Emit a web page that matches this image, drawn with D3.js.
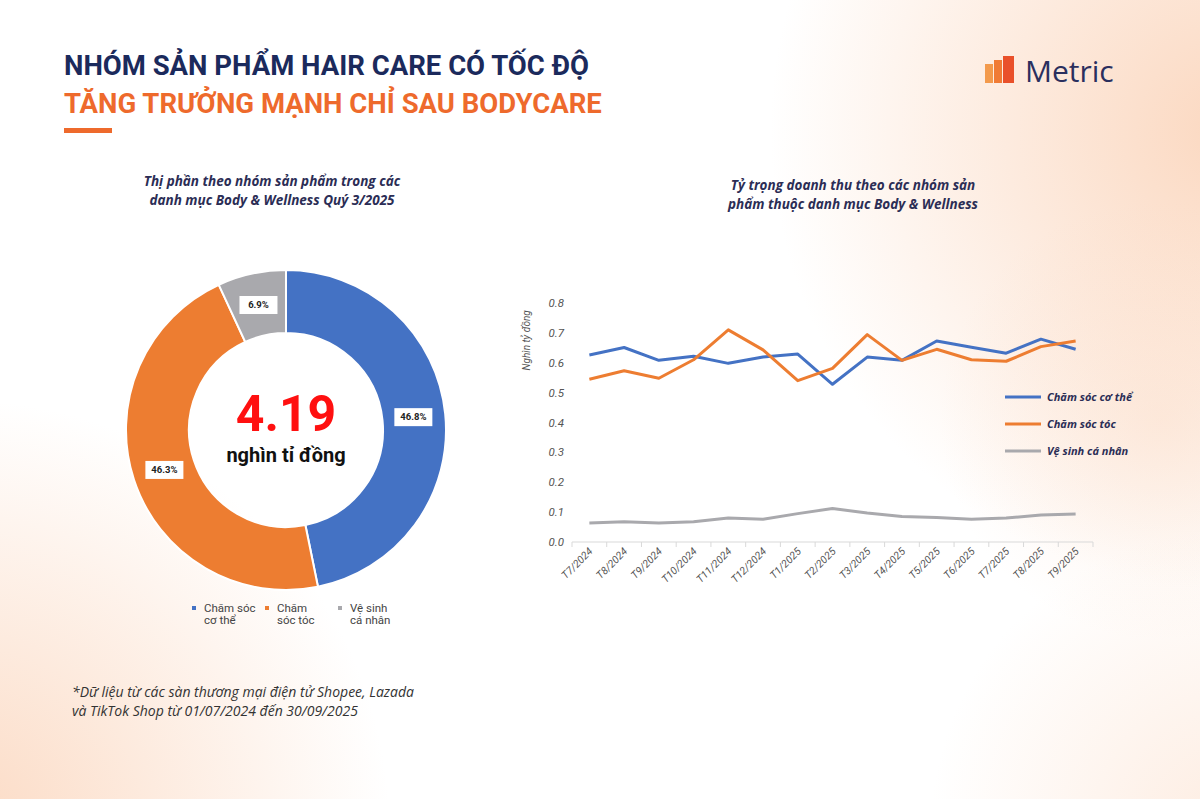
<!DOCTYPE html>
<html>
<head>
<meta charset="utf-8">
<script src="https://cdn.jsdelivr.net/npm/d3@7"></script>
<style>
  body { margin: 0; background: #fff; }
  svg { display: block; font-family: Roboto, "Noto Sans", sans-serif; }
</style>
</head>
<body>
<svg></svg>
<script>
const W = 1200, H = 799;

// donut data
const shareNames = ['Chăm sóc cơ thể', 'Chăm sóc tóc', 'Vệ sinh cá nhân'];
const shareValues = [46.8, 46.3, 6.9];
const legendLines = [['Chăm sóc', 'cơ thể'], ['Chăm', 'sóc tóc'], ['Vệ sinh', 'cá nhân']];

// line chart data
const months = ['T7/2024', 'T8/2024', 'T9/2024', 'T10/2024', 'T11/2024', 'T12/2024', 'T1/2025', 'T2/2025',
    'T3/2025', 'T4/2025', 'T5/2025', 'T6/2025', 'T7/2025', 'T8/2025', 'T9/2025'];
const bodyCare = [0.626, 0.651, 0.608, 0.622, 0.598, 0.619, 0.629, 0.528, 0.619, 0.608, 0.673, 0.652, 0.632, 0.679, 0.645];
const hairCare = [0.545, 0.573, 0.548, 0.610, 0.710, 0.643, 0.540, 0.581, 0.694, 0.608, 0.645, 0.610, 0.605, 0.654, 0.673];
const hygiene = [0.064, 0.068, 0.064, 0.068, 0.080, 0.076, 0.095, 0.112, 0.097, 0.085, 0.082, 0.076, 0.080, 0.090, 0.094];
const yTicks = [0, 0.1, 0.2, 0.3, 0.4, 0.5, 0.6, 0.7, 0.8];

const colors = ['#4472c4', '#ed7d31', '#a9a9ad'];
const navy = '#1b2a5c';
const wide = '"Open Sans", Roboto, sans-serif';

const svg = d3.select('svg').attr('width', W).attr('height', H);
const defs = svg.append('defs');

// peach background glows
function glow(id, cx, cy, r, op) {
    const g = defs.append('radialGradient').attr('id', id)
        .attr('gradientUnits', 'userSpaceOnUse')
        .attr('cx', cx).attr('cy', cy).attr('r', r);
    g.append('stop').attr('offset', '0%').attr('stop-color', '#fbd6bd').attr('stop-opacity', op);
    g.append('stop').attr('offset', '100%').attr('stop-color', '#fbd6bd').attr('stop-opacity', 0);
    svg.append('rect').attr('width', W).attr('height', H).attr('fill', `url(#${id})`);
}
glow('g1', 1230, 130, 460, 0.95);
glow('g2', -40, 830, 430, 0.9);
glow('g3', 1230, 830, 300, 0.45);
glow('g4', 1160, 420, 220, 0.35);

// title
svg.append('text').attr('x', 64).attr('y', 75)
    .attr('font-size', 27.5).attr('font-weight', 700).attr('fill', navy)
    .text('NHÓM SẢN PHẨM HAIR CARE CÓ TỐC ĐỘ');
svg.append('text').attr('x', 64).attr('y', 113)
    .attr('font-size', 27.5).attr('font-weight', 700).attr('fill', '#ee6a2c')
    .text('TĂNG TRƯỞNG MẠNH CHỈ SAU BODYCARE');
svg.append('rect').attr('x', 64).attr('y', 128).attr('width', 48).attr('height', 5).attr('fill', '#ee6a2c');

// logo
const logo = svg.append('g').attr('transform', 'translate(985,56)');
const logoBars = [{x: 0, w: 8, h: 19, c: '#f39a4c'}, {x: 9, w: 8, h: 23, c: '#f07b35'}, {x: 18, w: 11, h: 27, c: '#e9502a'}];
logo.selectAll('rect').data(logoBars).enter().append('rect')
    .attr('x', d => d.x).attr('y', d => 27 - d.h).attr('width', d => d.w).attr('height', d => d.h)
    .attr('fill', d => d.c);
svg.append('text').attr('x', 1025).attr('y', 82)
    .attr('font-size', 30).attr('font-weight', 400).attr('fill', '#2a2f5e')
    .attr('font-family', wide)
    .text('Metric');

// subtitles
function subtitle(cx, y, lines) {
    svg.append('g').selectAll('text').data(lines).enter().append('text')
        .attr('x', cx).attr('y', (d, i) => y + i * 19)
        .attr('text-anchor', 'middle').attr('font-family', wide)
        .attr('font-size', 13.5).attr('font-weight', 700).attr('font-style', 'italic').attr('fill', '#2b2d55')
        .text(d => d);
}
subtitle(272, 186, ['Thị phần theo nhóm sản phẩm trong các', 'danh mục Body & Wellness Quý 3/2025']);
subtitle(853, 190, ['Tỷ trọng doanh thu theo các nhóm sản', 'phẩm thuộc danh mục Body & Wellness']);

// donut
const cx = 286, cy = 430;
const pie = d3.pie().sort(null).value(d => d)(shareValues);
const arc = d3.arc().innerRadius(97).outerRadius(160);
const labelArc = d3.arc().innerRadius(128).outerRadius(128);
const donut = svg.append('g').attr('transform', `translate(${cx},${cy})`);
donut.selectAll('path').data(pie).enter().append('path')
    .attr('d', arc).attr('fill', (d, i) => colors[i])
    .attr('stroke', '#fff').attr('stroke-width', 2);

const lbl = donut.selectAll('g.lbl').data(pie).enter().append('g').attr('class', 'lbl')
    .attr('transform', d => `translate(${labelArc.centroid(d)})`);
lbl.append('rect').attr('x', -19).attr('y', -9).attr('width', 38).attr('height', 18).attr('fill', '#fff');
lbl.append('text').attr('text-anchor', 'middle').attr('dy', '0.35em')
    .attr('font-size', 9.5).attr('font-weight', 700).attr('fill', '#222')
    .text(d => d.data.toFixed(1) + '%');

donut.append('text').attr('text-anchor', 'middle').attr('y', 1)
    .attr('font-size', 50).attr('font-weight', 700).attr('fill', '#ff1010')
    .text('4.19');
donut.append('text').attr('text-anchor', 'middle').attr('y', 32)
    .attr('font-size', 20).attr('font-weight', 700).attr('fill', '#111')
    .text('nghìn tỉ đồng');

// donut legend
const legX = d3.scalePoint().domain(shareNames).range([194, 340]);
const dl = svg.append('g').selectAll('g').data(shareNames).enter().append('g')
    .attr('transform', d => `translate(${legX(d)},608)`);
dl.append('rect').attr('x', -2).attr('y', -2).attr('width', 4).attr('height', 4)
    .attr('fill', (d, i) => colors[i]);
dl.append('text').attr('x', 10).attr('font-size', 11.5).attr('fill', '#444')
    .selectAll('tspan').data((d, i) => legendLines[i]).enter().append('tspan')
    .attr('x', 10).attr('y', (d, i) => i * 12 + 4).text(d => d);

// line chart
const x = d3.scaleBand().domain(months).range([572, 1093]);
const y = d3.scaleLinear().domain([0, 0.8]).range([542, 303]);
const chart = svg.append('g');

chart.selectAll('text.ytick').data(yTicks).enter().append('text').attr('class', 'ytick')
    .attr('x', 564).attr('y', d => y(d)).attr('dy', '0.35em').attr('text-anchor', 'end')
    .attr('font-size', 11.5).attr('font-style', 'italic').attr('fill', '#555')
    .text(d => d.toFixed(1));

chart.append('line').attr('x1', x.range()[0]).attr('x2', x.range()[1])
    .attr('y1', y(0)).attr('y2', y(0)).attr('stroke', '#d9d9d9').attr('stroke-width', 1);
const edges = months.map(m => x(m)).concat([x.range()[1]]);
chart.selectAll('line.tk').data(edges).enter().append('line').attr('class', 'tk')
    .attr('x1', d => d).attr('x2', d => d).attr('y1', y(0)).attr('y2', y(0) + 5)
    .attr('stroke', '#d9d9d9');

chart.selectAll('text.xl').data(months).enter().append('text').attr('class', 'xl')
    .attr('text-anchor', 'end')
    .attr('transform', m => `translate(${x(m) + x.bandwidth() / 2 + 4},${y(0) + 10}) rotate(-45)`)
    .attr('font-size', 10.5).attr('font-style', 'italic').attr('fill', '#555')
    .text(m => m);

chart.append('text')
    .attr('transform', `translate(530,${(y(0.8) + y(0.55)) / 2}) rotate(-90)`)
    .attr('text-anchor', 'middle')
    .attr('font-size', 10).attr('font-style', 'italic').attr('fill', '#555')
    .text('Nghìn tỷ đồng');

const line = d3.line().x((d, i) => x(months[i]) + x.bandwidth() / 2).y(d => y(d));
const series = [bodyCare, hairCare, hygiene];
chart.selectAll('path.ser').data(series).enter().append('path').attr('class', 'ser')
    .attr('d', line).attr('fill', 'none')
    .attr('stroke', (d, i) => colors[i]).attr('stroke-width', 3).attr('stroke-linejoin', 'round');

const leg = chart.selectAll('g.leg').data(shareNames).enter().append('g').attr('class', 'leg')
    .attr('transform', (d, i) => `translate(1005,${397 + i * 27})`);
leg.append('line').attr('x1', 0).attr('x2', 36).attr('stroke', (d, i) => colors[i]).attr('stroke-width', 3);
leg.append('text').attr('x', 42).attr('dy', '0.35em').attr('font-family', wide)
    .attr('font-size', 11).attr('font-weight', 700).attr('font-style', 'italic').attr('fill', '#2b2d55')
    .text(d => d);

// footnote
svg.append('g').selectAll('text')
    .data(['*Dữ liệu từ các sàn thương mại điện tử Shopee, Lazada', 'và TikTok Shop từ 01/07/2024 đến 30/09/2025'])
    .enter().append('text')
    .attr('x', 72).attr('y', (d, i) => 697 + i * 19).attr('font-family', wide)
    .attr('font-size', 14).attr('font-style', 'italic').attr('fill', '#333')
    .text(d => d);
</script>
</body>
</html>
